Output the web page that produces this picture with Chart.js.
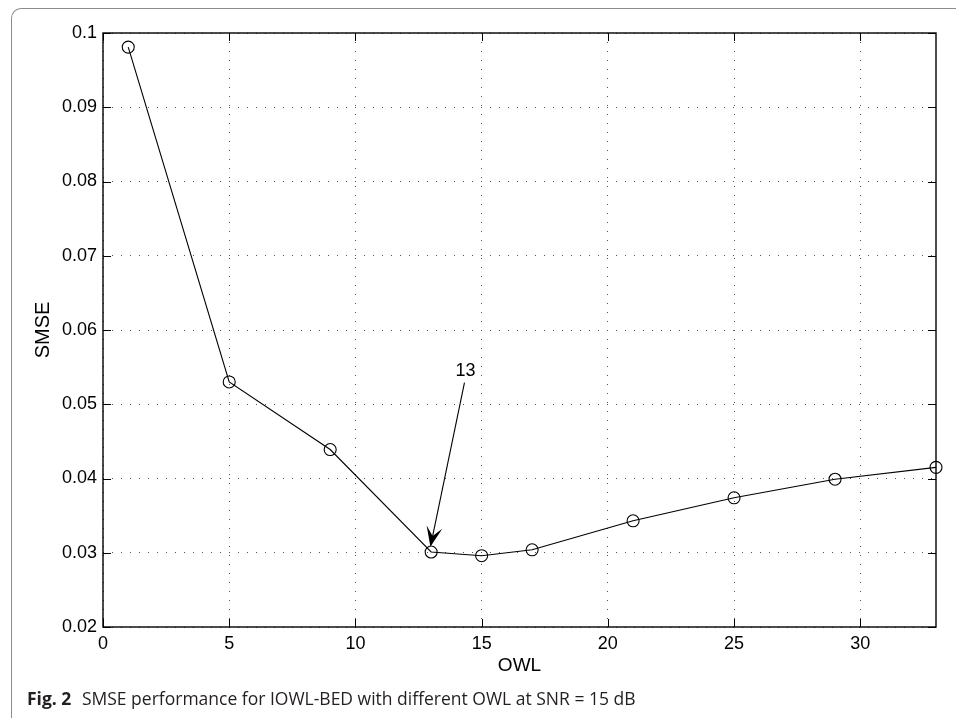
<!DOCTYPE html>
<html>
<head>
<meta charset="utf-8">
<script src="https://cdn.jsdelivr.net/npm/chart.js@4.4.0/dist/chart.umd.min.js"></script>
<style>
html,body{margin:0;padding:0;background:#fff;width:956px;height:718px;overflow:hidden;}
#frame{position:absolute;left:11px;top:8px;width:980px;height:760px;border-left:1.5px solid #8c8c8c;border-top:1.5px solid #8c8c8c;border-top-left-radius:10px;box-sizing:border-box;}
#c{position:absolute;left:0;top:0;}
#cap{position:absolute;left:27px;top:686px;font-family:'Open Sans',sans-serif;font-size:17.5px;color:#231f20;white-space:nowrap;}
#cap b{font-weight:700;margin-right:6px;}
</style>
</head>
<body>
<div id="frame"></div>
<canvas id="c" width="956" height="718"></canvas>
<div id="cap"><b>Fig. 2</b> SMSE performance for IOWL-BED with different OWL at SNR = 15 dB</div>
<script>
// ---- data ----
const owl  = [1, 5, 9, 13, 15, 17, 21, 25, 29, 33];
const smse = [0.0981, 0.0530, 0.0439, 0.0301, 0.0296, 0.0304, 0.0343, 0.0374, 0.0399, 0.0415];
const xTickValues = [0, 5, 10, 15, 20, 25, 30];
const xTickLabels = ['0', '5', '10', '15', '20', '25', '30'];
const yTickValues = [0.02, 0.03, 0.04, 0.05, 0.06, 0.07, 0.08, 0.09, 0.1];
const yTickLabels = ['0.02', '0.03', '0.04', '0.05', '0.06', '0.07', '0.08', '0.09', '0.1'];
const xLabel = 'OWL';
const yLabel = 'SMSE';
// annotation (data units)
const annText = '13';
const annTextAt = [14.36, 0.0545];
const annFrom = [14.32, 0.0529];
const annTo = [12.97, 0.0308];

const FAM = "'Liberation Sans', Arial, sans-serif";
const TICK_FONT = {family: FAM, size: 18};

const boxPlugin = {
  id: 'matlabBox',
  afterDraw(chart) {
    const {ctx, chartArea: a, scales: {x, y}} = chart;
    ctx.save();
    ctx.strokeStyle = '#000';
    ctx.lineWidth = 1.4;
    ctx.strokeRect(a.left, a.top, a.right - a.left, a.bottom - a.top);
    const L = 8;
    ctx.lineWidth = 1;
    ctx.beginPath();
    x.ticks.forEach(t => {
      const px = Math.round(x.getPixelForValue(t.value)) + 0.5;
      ctx.moveTo(px, a.bottom); ctx.lineTo(px, a.bottom - L);
      ctx.moveTo(px, a.top); ctx.lineTo(px, a.top + L);
    });
    y.ticks.forEach(t => {
      const py = Math.round(y.getPixelForValue(t.value)) + 0.5;
      ctx.moveTo(a.left, py); ctx.lineTo(a.left + L, py);
      ctx.moveTo(a.right, py); ctx.lineTo(a.right - L, py);
    });
    ctx.stroke();
    ctx.restore();
  }
};

const arrowPlugin = {
  id: 'arrowAnn',
  afterDatasetsDraw(chart) {
    const {ctx, scales: {x, y}} = chart;
    const sx = x.getPixelForValue(annFrom[0]), sy = y.getPixelForValue(annFrom[1]);
    const tx = x.getPixelForValue(annTo[0]), ty = y.getPixelForValue(annTo[1]);
    const dx = tx - sx, dy = ty - sy, len = Math.hypot(dx, dy);
    const ux = dx / len, uy = dy / len, nx = -uy, ny = ux;
    const HL = 20, HW = 8;
    ctx.save();
    ctx.strokeStyle = '#000';
    ctx.fillStyle = '#000';
    ctx.lineWidth = 1.1;
    ctx.beginPath();
    ctx.moveTo(sx, sy);
    ctx.lineTo(tx - ux * HL * 0.5, ty - uy * HL * 0.5);
    ctx.stroke();
    ctx.beginPath();
    ctx.moveTo(tx, ty);
    ctx.lineTo(tx - ux * HL + nx * HW, ty - uy * HL + ny * HW);
    ctx.lineTo(tx - ux * HL * 0.55, ty - uy * HL * 0.55);
    ctx.lineTo(tx - ux * HL - nx * HW, ty - uy * HL - ny * HW);
    ctx.closePath();
    ctx.fill();
    ctx.font = "18px " + FAM;
    ctx.textAlign = 'center';
    ctx.textBaseline = 'middle';
    ctx.fillText(annText, x.getPixelForValue(annTextAt[0]), y.getPixelForValue(annTextAt[1]));
    ctx.restore();
  }
};

new Chart(document.getElementById('c'), {
  type: 'scatter',
  data: {
    datasets: [{
      data: owl.map((v, i) => ({x: v, y: smse[i]})),
      showLine: true,
      borderColor: '#000',
      borderWidth: 1.1,
      pointStyle: 'circle',
      pointRadius: 6,
      pointBorderWidth: 1.1,
      pointBorderColor: '#000',
      pointBackgroundColor: 'rgba(0,0,0,0)',
      clip: false,
      tension: 0
    }]
  },
  options: {
    responsive: false,
    devicePixelRatio: 1,
    animation: false,
    events: [],
    layout: {padding: {left: 0, top: 33, right: 20, bottom: 0}},
    plugins: {legend: {display: false}, tooltip: {enabled: false}, title: {display: false}},
    scales: {
      x: {
        type: 'linear',
        min: 0, max: 33,
        afterBuildTicks: s => { s.ticks = xTickValues.map(v => ({value: v})); },
        afterFit: s => { s.height = 91; },
        ticks: {
          font: TICK_FONT, color: '#000', padding: 6, maxRotation: 0, autoSkip: false,
          callback: (v) => { const i = xTickValues.indexOf(v); return i >= 0 ? xTickLabels[i] : ''; }
        },
        grid: {color: '#555', lineWidth: 1, drawTicks: false},
        border: {display: false, dash: [1, 8]},
        title: {display: true, text: xLabel, color: '#000',
                font: {family: FAM, size: 19},
                padding: {top: 0, bottom: 41}}
      },
      y: {
        type: 'linear',
        min: 0.02, max: 0.1,
        afterBuildTicks: s => { s.ticks = yTickValues.map(v => ({value: v})); },
        afterFit: s => { s.width = 103; },
        ticks: {
          font: TICK_FONT, color: '#000', padding: 6, autoSkip: false,
          callback: (v) => { const i = yTickValues.findIndex(t => Math.abs(t - v) < 1e-9); return i >= 0 ? yTickLabels[i] : ''; }
        },
        grid: {color: '#555', lineWidth: 1, drawTicks: false},
        border: {display: false, dash: [1, 8]},
        title: {display: true, text: yLabel, color: '#000',
                font: {family: FAM, size: 20},
                padding: {top: 31, bottom: 0}}
      }
    }
  },
  plugins: [boxPlugin, arrowPlugin]
});
</script>
</body>
</html>
